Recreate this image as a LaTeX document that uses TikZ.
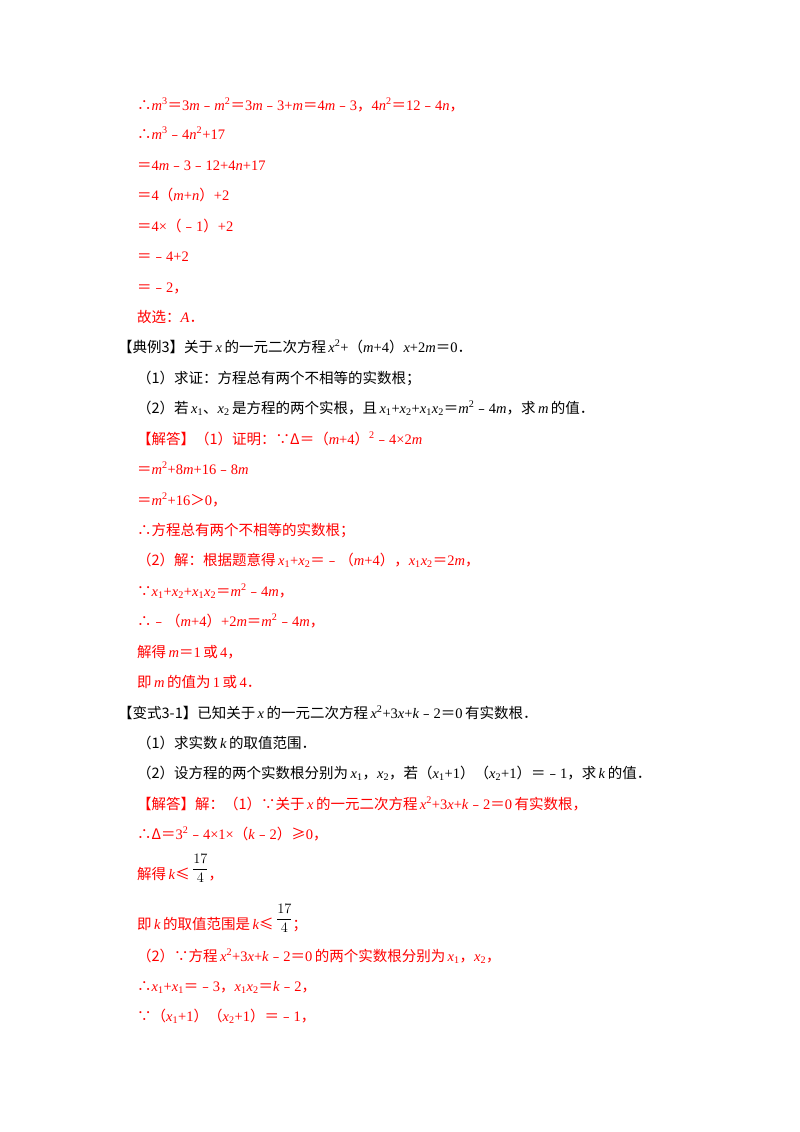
\documentclass[tikz,border=0pt]{standalone}
\usepackage{fontspec}
\setmainfont{Liberation Serif}
\newfontfamily\cjk{Noto Sans CJK SC}
\newcommand\V[1]{\textit{#1}}
\newcommand\Z[1]{{\cjk #1}}
\newcommand\Sp[1]{\textsuperscript{#1}}
\newcommand\Sb[1]{\textsubscript{#1}}
\newcommand\Dt{\Z{．}}
\newcommand\Fr{\raisebox{6pt}{\textcolor{black}{$\displaystyle\frac{17}{4}$}}}
\definecolor{ans}{RGB}{255,0,0}
\begin{document}
\begin{tikzpicture}[x=1pt,y=-1pt,every node/.style={anchor=base west,inner sep=0pt,font=\fontsize{14.5}{17}\selectfont}]
\useasboundingbox (0,0) rectangle (800,1132);
\fill[white] (0,0) rectangle (800,1132);
\begin{scope}[every node/.append style={text=ans}]
\node (l1) at (137,110) {\Z{∴}\V{m}\Sp{3}\Z{＝}3\V{m}\Z{﹣}\V{m}\Sp{2}\Z{＝}3\V{m}\Z{﹣}3+\V{m}\Z{＝}4\V{m}\Z{﹣}3\Z{，}4\V{n}\Sp{2}\Z{＝}12\Z{﹣}4\V{n}\Z{，}};
\node (l2) at (137,139) {\Z{∴}\V{m}\Sp{3}\Z{﹣}4\V{n}\Sp{2}+17};
\node (l3) at (137,170) {\Z{＝}4\V{m}\Z{﹣}3\Z{﹣}12+4\V{n}+17};
\node (l4) at (137,200) {\Z{＝}4\Z{（}\V{m}+\V{n}\Z{）}+2};
\node (l5) at (137,231) {\Z{＝}4×\Z{（﹣}1\Z{）}+2};
\node (l6) at (137,261) {\Z{＝﹣}4+2};
\node (l7) at (137,292) {\Z{＝﹣}2\Z{，}};
\node (l8) at (137,322) {\Z{故选：}\V{A}\Dt};
\end{scope}
\node (e3) at (118,352) {\Z{【典例3】关于}\,\V{x}\,\Z{的一元二次方程}\,\V{x}\Sp{2}+\Z{（}\V{m}+4\Z{）}\V{x}+2\V{m}\Z{＝}0\Dt};
\node (e31) at (137,383) {\Z{（1）求证：方程总有两个不相等的实数根；}};
\node (e32) at (137,413) {\Z{（2）若}\,\V{x}\Sb{1}\Z{、}\V{x}\Sb{2}\,\Z{是方程的两个实根，且}\,\V{x}\Sb{1}+\V{x}\Sb{2}+\V{x}\Sb{1}\V{x}\Sb{2}\Z{＝}\V{m}\Sp{2}\Z{﹣}4\V{m}\Z{，求}\,\V{m}\,\Z{的值}\Dt};
\begin{scope}[every node/.append style={text=ans}]
\node (a1) at (137,444) {\Z{【解答】（1）证明：∵Δ＝（}\V{m}+4\Z{）}\Sp{2}\Z{﹣}4×2\V{m}};
\node (a2) at (137,474) {\Z{＝}\V{m}\Sp{2}+8\V{m}+16\Z{﹣}8\V{m}};
\node (a3) at (137,505) {\Z{＝}\V{m}\Sp{2}+16\Z{＞}0\Z{，}};
\node (a4) at (137,535) {\Z{∴方程总有两个不相等的实数根；}};
\node (a5) at (137,565) {\Z{（2）解：根据题意得}\,\V{x}\Sb{1}+\V{x}\Sb{2}\Z{＝﹣（}\V{m}+4\Z{），}\V{x}\Sb{1}\V{x}\Sb{2}\Z{＝}2\V{m}\Z{，}};
\node (a6) at (137,596) {\Z{∵}\V{x}\Sb{1}+\V{x}\Sb{2}+\V{x}\Sb{1}\V{x}\Sb{2}\Z{＝}\V{m}\Sp{2}\Z{﹣}4\V{m}\Z{，}};
\node (a7) at (137,626) {\Z{∴﹣（}\V{m}+4\Z{）}+2\V{m}\Z{＝}\V{m}\Sp{2}\Z{﹣}4\V{m}\Z{，}};
\node (a8) at (137,657) {\Z{解得}\,\V{m}\Z{＝}1\,\Z{或}\,4\Z{，}};
\node (a9) at (137,687) {\Z{即}\,\V{m}\,\Z{的值为}\,1\,\Z{或}\,4\Dt};
\end{scope}
\node (v3) at (118,718) {\Z{【变式3-1】已知关于}\,\V{x}\,\Z{的一元二次方程}\,\V{x}\Sp{2}+3\V{x}+\V{k}\Z{﹣}2\Z{＝}0\,\Z{有实数根}\Dt};
\node (v31) at (137,748) {\Z{（1）求实数}\,\V{k}\,\Z{的取值范围}\Dt};
\node (v32) at (137,778) {\Z{（2）设方程的两个实数根分别为}\,\V{x}\Sb{1}\Z{，}\V{x}\Sb{2}\Z{，若（}\V{x}\Sb{1}+1\Z{）（}\V{x}\Sb{2}+1\Z{）＝﹣}1\Z{，求}\,\V{k}\,\Z{的值}\Dt};
\begin{scope}[every node/.append style={text=ans}]
\node (b1) at (137,809) {\Z{【解答】解：（1）∵关于}\,\V{x}\,\Z{的一元二次方程}\,\V{x}\Sp{2}+3\V{x}+\V{k}\Z{﹣}2\Z{＝}0\,\Z{有实数根，}};
\node (b2) at (137,839) {\Z{∴Δ＝}3\Sp{2}\Z{﹣}4×1×\Z{（}\V{k}\Z{﹣}2\Z{）≥}0\Z{，}};
\node (b3) at (137,879) {\Z{解得}\,\V{k}\Z{≤}\,\Fr\Z{，}};
\node (b4) at (137,929) {\Z{即}\,\V{k}\,\Z{的取值范围是}\,\V{k}\Z{≤}\,\Fr\Z{；}};
\node (b5) at (137,961) {\Z{（2）∵方程}\,\V{x}\Sp{2}+3\V{x}+\V{k}\Z{﹣}2\Z{＝}0\,\Z{的两个实数根分别为}\,\V{x}\Sb{1}\Z{，}\V{x}\Sb{2}\Z{，}};
\node (b6) at (137,991) {\Z{∴}\V{x}\Sb{1}+\V{x}\Sb{1}\Z{＝﹣}3\Z{，}\V{x}\Sb{1}\V{x}\Sb{2}\Z{＝}\V{k}\Z{﹣}2\Z{，}};
\node (b7) at (137,1021) {\Z{∵（}\V{x}\Sb{1}+1\Z{）（}\V{x}\Sb{2}+1\Z{）＝﹣}1\Z{，}};
\end{scope}
\end{tikzpicture}
\end{document}
